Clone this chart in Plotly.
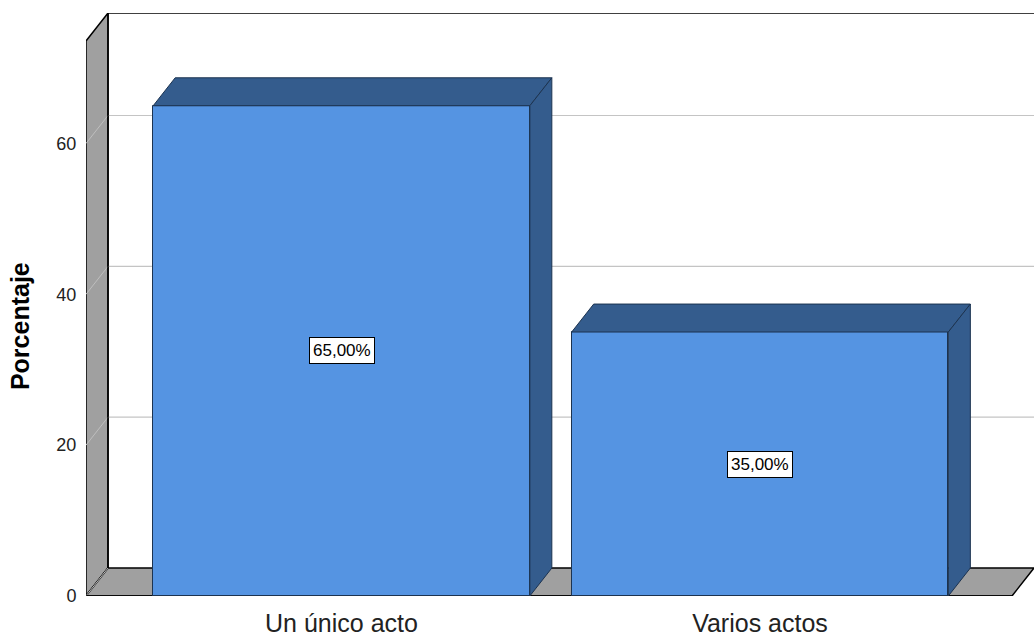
import plotly.graph_objects as go

# ---- data ----
categories = ["Un único acto", "Varios actos"]
percentages = [65.0, 35.0]
y_ticks = [0, 20, 40, 60]
y_label = "Porcentaje"

# ---- styling / geometry constants ----
FRONT = "#5594E2"
DARK = "#345C8D"
EDGE = "#1C3350"
WALL = "#A0A0A0"
GRID = "#C4C4C4"
FONT = "Liberation Sans, Arial, sans-serif"

bar_w = 0.9
dx = 0.0526          # depth offset in category units
dy = 3.71            # depth offset in value units
x_rng = [-0.6105, 1.6547]
y_rng = [0, 77.3]
xl, xr = x_rng
ytop = y_rng[1]

x_pos = list(range(len(categories)))

fig = go.Figure()

# front faces
fig.add_trace(go.Bar(
    x=x_pos, y=percentages, width=bar_w,
    marker=dict(color=FRONT, line=dict(color=EDGE, width=1)),
    hoverinfo="skip", showlegend=False,
))

# top and side faces
for xc, v in zip(x_pos, percentages):
    x0, x1 = xc - bar_w / 2, xc + bar_w / 2
    fig.add_trace(go.Scatter(
        x=[x0, x0 + dx, x1 + dx, x1, x0], y=[v, v + dy, v + dy, v, v],
        fill="toself", fillcolor=DARK, mode="lines",
        line=dict(color=EDGE, width=1), hoverinfo="skip", showlegend=False))
    fig.add_trace(go.Scatter(
        x=[x1, x1 + dx, x1 + dx, x1, x1], y=[0, dy, v + dy, v, 0],
        fill="toself", fillcolor=DARK, mode="lines",
        line=dict(color=EDGE, width=1), hoverinfo="skip", showlegend=False))

shapes = []
# left wall
shapes.append(dict(type="path", layer="below", xref="x", yref="y",
                   path=f"M{xl},0 L{xl+dx},{dy} L{xl+dx},{ytop} L{xl},{ytop-dy} Z",
                   fillcolor=WALL, line=dict(color="black", width=1.5)))
# floor
shapes.append(dict(type="path", layer="below", xref="x", yref="y",
                   path=f"M{xl},0 L{xl+dx},{dy} L{xr},{dy} L{xr-dx},0 Z",
                   fillcolor=WALL, line=dict(color="black", width=1.5)))
# back wall top edge
shapes.append(dict(type="line", layer="below", xref="x", yref="y",
                   x0=xl + dx, x1=xr, y0=ytop, y1=ytop,
                   line=dict(color="black", width=1.5)))
# gridlines
for t in y_ticks:
    if t > 0:
        shapes.append(dict(type="line", layer="below", xref="x", yref="y",
                           x0=xl + dx, x1=xr, y0=t + dy, y1=t + dy,
                           line=dict(color=GRID, width=1.2)))
    shapes.append(dict(type="line", layer="below", xref="x", yref="y",
                       x0=xl, x1=xl + dx, y0=t, y1=t + dy,
                       line=dict(color="#BEBEBE", width=1)))
# wall inner edge (back left vertical)
shapes.append(dict(type="line", layer="below", xref="x", yref="y",
                   x0=xl + dx, x1=xl + dx, y0=dy, y1=ytop,
                   line=dict(color="black", width=1.5)))
# front bottom line
shapes.append(dict(type="line", layer="below", xref="x", yref="y",
                   x0=xl, x1=xr - dx, y0=0, y1=0,
                   line=dict(color="black", width=1.5)))

annotations = []
for xc, v in zip(x_pos, percentages):
    annotations.append(dict(
        x=xc, y=v / 2, xref="x", yref="y", showarrow=False,
        text=f"{v:.2f}".replace(".", ",") + "%",
        font=dict(family=FONT, size=17, color="black"),
        bgcolor="white", bordercolor="black", borderwidth=1, borderpad=3))
annotations.append(dict(
    x=-66 / 948, y=0.463, xref="paper", yref="paper", showarrow=False,
    text=f"<b>{y_label}</b>", textangle=-90, xanchor="center", yanchor="middle",
    font=dict(family=FONT, size=25, color="black")))

fig.update_layout(
    width=1034, height=637,
    margin=dict(l=86, r=0, t=13, b=41),
    paper_bgcolor="white", plot_bgcolor="white",
    shapes=shapes, annotations=annotations,
    bargap=0,
    xaxis=dict(range=x_rng, tickvals=x_pos, ticktext=categories,
               showgrid=False, zeroline=False, showline=False,
               ticks="outside", ticklen=5, tickcolor="rgba(0,0,0,0)",
               tickfont=dict(family=FONT, size=25, color="#222222")),
    yaxis=dict(range=y_rng, tickvals=y_ticks, showgrid=False, zeroline=False,
               showline=False, ticks="outside", ticklen=5,
               tickcolor="rgba(0,0,0,0)",
               tickfont=dict(family=FONT, size=18, color="#222222")),
)

fig.write_html(
    "out.html",
    config={"displayModeBar": False},
    post_script="document.body.style.margin='0';document.body.style.overflow='hidden';",
)
